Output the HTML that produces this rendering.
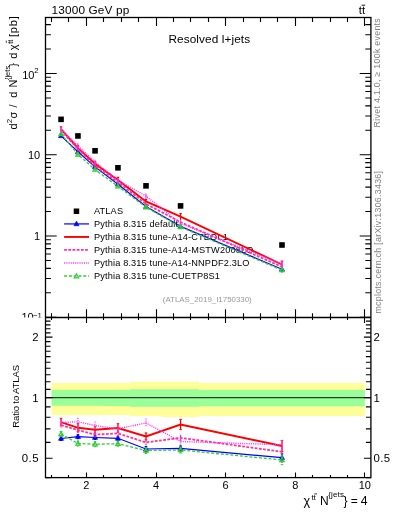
<!DOCTYPE html>
<html><head><meta charset="utf-8"><style>
html,body{margin:0;padding:0;background:#fff;width:393px;height:512px;overflow:hidden;}
body{position:relative;font-family:"Liberation Sans",sans-serif;-webkit-font-smoothing:antialiased;}
svg{will-change:transform;}
</style></head><body>
<svg width="393" height="512" viewBox="0 0 393 512" style="position:absolute;left:0;top:0">
<defs><clipPath id="cu"><rect x="0" y="0" width="393" height="317.4"/></clipPath>
<clipPath id="pu"><rect x="45.5" y="17.5" width="325.4" height="300.0"/></clipPath>
<clipPath id="pr"><rect x="45.5" y="317.5" width="325.4" height="160.10000000000002"/></clipPath></defs>
<path d="M51.59 382.90L69.00 382.90L69.00 382.90L86.40 382.90L86.40 382.90L103.81 382.90L103.81 382.90L129.91 382.90L129.91 381.70L160.89 381.70L160.89 381.70L199.18 381.70L199.18 382.90L364.88 382.90L364.88 416.10L199.18 416.10L199.18 416.90L160.89 416.90L160.89 416.10L129.91 416.10L129.91 414.90L103.81 414.90L103.81 414.90L86.40 414.90L86.40 414.90L69.00 414.90L69.00 414.90L51.59 414.90Z" fill="#ffff99"/>
<path d="M51.59 389.90L69.00 389.90L69.00 389.90L86.40 389.90L86.40 389.90L103.81 389.90L103.81 389.90L129.91 389.90L129.91 389.30L160.89 389.30L160.89 389.30L199.18 389.30L199.18 390.00L364.88 390.00L364.88 406.30L199.18 406.30L199.18 406.80L160.89 406.80L160.89 406.80L129.91 406.80L129.91 405.90L103.81 405.90L103.81 405.80L86.40 405.80L86.40 405.80L69.00 405.80L69.00 405.80L51.59 405.80Z" fill="#99ff99"/>
<line x1="45.5" y1="397.7" x2="370.9" y2="397.7" stroke="#2f3a2f" stroke-width="1.2"/>
<rect x="45.5" y="17.5" width="325.4" height="460.1" fill="none" stroke="#000" stroke-width="1.3"/>
<line x1="45.5" y1="317.5" x2="370.9" y2="317.5" stroke="#000" stroke-width="1.3"/>
<path d="M51.50 17.50L51.50 21.90M51.50 317.50L51.50 313.20M51.50 317.50L51.50 319.90M51.50 477.60L51.50 475.00M68.50 17.50L68.50 21.90M68.50 317.50L68.50 313.20M68.50 317.50L68.50 319.90M68.50 477.60L68.50 475.00M86.50 17.50L86.50 25.90M86.50 317.50L86.50 309.20M86.50 317.50L86.50 322.90M86.50 477.60L86.50 472.60M103.50 17.50L103.50 21.90M103.50 317.50L103.50 313.20M103.50 317.50L103.50 319.90M103.50 477.60L103.50 475.00M121.50 17.50L121.50 21.90M121.50 317.50L121.50 313.20M121.50 317.50L121.50 319.90M121.50 477.60L121.50 475.00M138.50 17.50L138.50 21.90M138.50 317.50L138.50 313.20M138.50 317.50L138.50 319.90M138.50 477.60L138.50 475.00M156.50 17.50L156.50 25.90M156.50 317.50L156.50 309.20M156.50 317.50L156.50 322.90M156.50 477.60L156.50 472.60M173.50 17.50L173.50 21.90M173.50 317.50L173.50 313.20M173.50 317.50L173.50 319.90M173.50 477.60L173.50 475.00M190.50 17.50L190.50 21.90M190.50 317.50L190.50 313.20M190.50 317.50L190.50 319.90M190.50 477.60L190.50 475.00M208.50 17.50L208.50 21.90M208.50 317.50L208.50 313.20M208.50 317.50L208.50 319.90M208.50 477.60L208.50 475.00M225.50 17.50L225.50 25.90M225.50 317.50L225.50 309.20M225.50 317.50L225.50 322.90M225.50 477.60L225.50 472.60M243.50 17.50L243.50 21.90M243.50 317.50L243.50 313.20M243.50 317.50L243.50 319.90M243.50 477.60L243.50 475.00M260.50 17.50L260.50 21.90M260.50 317.50L260.50 313.20M260.50 317.50L260.50 319.90M260.50 477.60L260.50 475.00M277.50 17.50L277.50 21.90M277.50 317.50L277.50 313.20M277.50 317.50L277.50 319.90M277.50 477.60L277.50 475.00M295.50 17.50L295.50 25.90M295.50 317.50L295.50 309.20M295.50 317.50L295.50 322.90M295.50 477.60L295.50 472.60M312.50 17.50L312.50 21.90M312.50 317.50L312.50 313.20M312.50 317.50L312.50 319.90M312.50 477.60L312.50 475.00M330.50 17.50L330.50 21.90M330.50 317.50L330.50 313.20M330.50 317.50L330.50 319.90M330.50 477.60L330.50 475.00M347.50 17.50L347.50 21.90M347.50 317.50L347.50 313.20M347.50 317.50L347.50 319.90M347.50 477.60L347.50 475.00M364.50 17.50L364.50 25.90M364.50 317.50L364.50 309.20M364.50 317.50L364.50 322.90M364.50 477.60L364.50 472.60M45.50 317.25L56.70 317.25M370.90 317.25L359.70 317.25M45.50 292.79L50.90 292.79M370.90 292.79L365.30 292.79M45.50 278.48L50.90 278.48M370.90 278.48L365.30 278.48M45.50 268.33L50.90 268.33M370.90 268.33L365.30 268.33M45.50 260.46L50.90 260.46M370.90 260.46L365.30 260.46M45.50 254.03L50.90 254.03M370.90 254.03L365.30 254.03M45.50 248.59L50.90 248.59M370.90 248.59L365.30 248.59M45.50 243.87L50.90 243.87M370.90 243.87L365.30 243.87M45.50 239.72L50.90 239.72M370.90 239.72L365.30 239.72M45.50 236.00L56.70 236.00M370.90 236.00L359.70 236.00M45.50 211.54L50.90 211.54M370.90 211.54L365.30 211.54M45.50 197.23L50.90 197.23M370.90 197.23L365.30 197.23M45.50 187.08L50.90 187.08M370.90 187.08L365.30 187.08M45.50 179.21L50.90 179.21M370.90 179.21L365.30 179.21M45.50 172.78L50.90 172.78M370.90 172.78L365.30 172.78M45.50 167.34L50.90 167.34M370.90 167.34L365.30 167.34M45.50 162.62L50.90 162.62M370.90 162.62L365.30 162.62M45.50 158.47L50.90 158.47M370.90 158.47L365.30 158.47M45.50 154.75L56.70 154.75M370.90 154.75L359.70 154.75M45.50 130.29L50.90 130.29M370.90 130.29L365.30 130.29M45.50 115.98L50.90 115.98M370.90 115.98L365.30 115.98M45.50 105.83L50.90 105.83M370.90 105.83L365.30 105.83M45.50 97.96L50.90 97.96M370.90 97.96L365.30 97.96M45.50 91.53L50.90 91.53M370.90 91.53L365.30 91.53M45.50 86.09L50.90 86.09M370.90 86.09L365.30 86.09M45.50 81.37L50.90 81.37M370.90 81.37L365.30 81.37M45.50 77.22L50.90 77.22M370.90 77.22L365.30 77.22M45.50 73.50L56.70 73.50M370.90 73.50L359.70 73.50M45.50 49.04L50.90 49.04M370.90 49.04L365.30 49.04M45.50 34.73L50.90 34.73M370.90 34.73L365.30 34.73M45.50 24.58L50.90 24.58M370.90 24.58L365.30 24.58M45.50 477.81L50.50 477.81M370.90 477.81L365.90 477.81M45.50 458.30L52.50 458.30M370.90 458.30L363.90 458.30M45.50 442.36L50.50 442.36M370.90 442.36L365.90 442.36M45.50 428.88L50.50 428.88M370.90 428.88L365.90 428.88M45.50 417.21L50.50 417.21M370.90 417.21L365.90 417.21M45.50 406.91L50.50 406.91M370.90 406.91L365.90 406.91M45.50 397.70L52.50 397.70M370.90 397.70L363.90 397.70M45.50 389.37L50.50 389.37M370.90 389.37L365.90 389.37M45.50 381.76L50.50 381.76M370.90 381.76L365.90 381.76M45.50 374.76L50.50 374.76M370.90 374.76L365.90 374.76M45.50 368.28L50.50 368.28M370.90 368.28L365.90 368.28M45.50 362.25L50.50 362.25M370.90 362.25L365.90 362.25M45.50 356.61L50.50 356.61M370.90 356.61L365.90 356.61M45.50 351.31L50.50 351.31M370.90 351.31L365.90 351.31M45.50 346.31L50.50 346.31M370.90 346.31L365.90 346.31M45.50 341.59L50.50 341.59M370.90 341.59L365.90 341.59M45.50 337.10L52.50 337.10M370.90 337.10L363.90 337.10M45.50 332.84L50.50 332.84M370.90 332.84L365.90 332.84M45.50 328.77L50.50 328.77M370.90 328.77L365.90 328.77M45.50 324.88L50.50 324.88M370.90 324.88L365.90 324.88M45.50 321.16L50.50 321.16M370.90 321.16L365.90 321.16" stroke="#000" stroke-width="1.1" fill="none"/>
<text x="51.6" y="13.8" font-size="11.8" text-anchor="start" fill="#000" font-family="Liberation Sans, sans-serif" letter-spacing="0.14">13000 GeV pp</text>
<text x="358.8" y="14" font-size="11.5" font-family="Liberation Sans, sans-serif">tt</text>
<path d="M361.6 5.2L365.2 5.2" stroke="#000" stroke-width="0.9"/>
<text x="168.4" y="42.5" font-size="11.8" text-anchor="start" fill="#000" font-family="Liberation Sans, sans-serif" letter-spacing="0.1">Resolved l+jets</text>
<g clip-path="url(#cu)">
<text x="34.4" y="78.9" font-size="11" text-anchor="end" fill="#000" font-family="Liberation Sans, sans-serif" >10</text>
<text x="34.3" y="73.2" font-size="7.8" text-anchor="start" fill="#000" font-family="Liberation Sans, sans-serif" >2</text>
<text x="40.2" y="159.1" font-size="11" text-anchor="end" fill="#000" font-family="Liberation Sans, sans-serif" >10</text>
<text x="40.0" y="240.0" font-size="11" text-anchor="end" fill="#000" font-family="Liberation Sans, sans-serif" >1</text>
<text x="21.4" y="320.9" font-size="11" text-anchor="start" fill="#000" font-family="Liberation Sans, sans-serif" >10</text>
<text x="33" y="317.6" font-size="7.8" text-anchor="start" fill="#000" font-family="Liberation Sans, sans-serif" >&#8722;1</text>
</g>
<text x="38.6" y="341.2" font-size="11.4" text-anchor="end" fill="#000" font-family="Liberation Sans, sans-serif" >2</text>
<text x="373.4" y="341.2" font-size="11.4" text-anchor="start" fill="#000" font-family="Liberation Sans, sans-serif" >2</text>
<text x="38.6" y="401.8" font-size="11.4" text-anchor="end" fill="#000" font-family="Liberation Sans, sans-serif" >1</text>
<text x="373.4" y="401.8" font-size="11.4" text-anchor="start" fill="#000" font-family="Liberation Sans, sans-serif" >1</text>
<text x="38.9" y="462.4" font-size="11.4" text-anchor="end" fill="#000" font-family="Liberation Sans, sans-serif" letter-spacing="0.4">0.5</text>
<text x="373.4" y="462.4" font-size="11.4" text-anchor="start" fill="#000" font-family="Liberation Sans, sans-serif" letter-spacing="0.4">0.5</text>
<text x="86.40" y="489" font-size="11" text-anchor="middle" fill="#000" font-family="Liberation Sans, sans-serif" >2</text>
<text x="156.02" y="489" font-size="11" text-anchor="middle" fill="#000" font-family="Liberation Sans, sans-serif" >4</text>
<text x="225.64" y="489" font-size="11" text-anchor="middle" fill="#000" font-family="Liberation Sans, sans-serif" >6</text>
<text x="295.26" y="489" font-size="11" text-anchor="middle" fill="#000" font-family="Liberation Sans, sans-serif" >8</text>
<text x="364.88" y="489" font-size="11" text-anchor="middle" fill="#000" font-family="Liberation Sans, sans-serif" >10</text>
<text x="303.6" y="504.9" font-size="12.6" text-anchor="start" fill="#000" font-family="Liberation Sans, sans-serif" >&#967;</text>
<text x="311.4" y="500.0" font-size="8" text-anchor="start" fill="#000" font-family="Liberation Sans, sans-serif" >tt</text>
<path d="M314.3 493.9L317.0 493.9" stroke="#000" stroke-width="0.8"/>
<text x="320.0" y="504.9" font-size="12" text-anchor="start" fill="#000" font-family="Liberation Sans, sans-serif" >N</text>
<text x="328.2" y="497.3" font-size="8" text-anchor="start" fill="#000" font-family="Liberation Sans, sans-serif" letter-spacing="0.15">{jets</text>
<text x="343.4" y="504.9" font-size="12" text-anchor="start" fill="#000" font-family="Liberation Sans, sans-serif" >}</text>
<text x="350.8" y="504.9" font-size="12" text-anchor="start" fill="#000" font-family="Liberation Sans, sans-serif" >=</text>
<text x="360.7" y="504.9" font-size="12.2" text-anchor="start" fill="#000" font-family="Liberation Sans, sans-serif" >4</text>
<text transform="translate(17.0,129.55) rotate(-90)" font-size="11" fill="#000" font-family="Liberation Sans, sans-serif" >d</text>
<text transform="translate(11.7,123.2) rotate(-90)" font-size="8" fill="#000" font-family="Liberation Sans, sans-serif" >2</text>
<text transform="translate(17.0,118.55) rotate(-90)" font-size="11" fill="#000" font-family="Liberation Sans, sans-serif" >&#963;</text>
<text transform="translate(17.0,107.4) rotate(-90)" font-size="11" fill="#000" font-family="Liberation Sans, sans-serif" >/</text>
<text transform="translate(17.0,97.85) rotate(-90)" font-size="11" fill="#000" font-family="Liberation Sans, sans-serif" >d</text>
<text transform="translate(17.0,87.5) rotate(-90)" font-size="11" fill="#000" font-family="Liberation Sans, sans-serif" >N</text>
<text transform="translate(9.7,80.05) rotate(-90)" font-size="7.5" fill="#000" font-family="Liberation Sans, sans-serif" >{jets</text>
<text transform="translate(17.0,66.7) rotate(-90)" font-size="11" fill="#000" font-family="Liberation Sans, sans-serif" >}</text>
<text transform="translate(17.0,58.8) rotate(-90)" font-size="11" fill="#000" font-family="Liberation Sans, sans-serif" >d</text>
<text transform="translate(17.0,50.3) rotate(-90)" font-size="11" fill="#000" font-family="Liberation Sans, sans-serif" >&#967;</text>
<text transform="translate(13.4,43.75) rotate(-90)" font-size="7" fill="#000" font-family="Liberation Sans, sans-serif" >tt</text>
<path d="M6.3 40.6L6.3 43.0" stroke="#000" stroke-width="0.7"/>
<text transform="translate(17.0,37.0) rotate(-90)" font-size="11" fill="#000" font-family="Liberation Sans, sans-serif" letter-spacing="0.8">[pb]</text>
<text transform="translate(18.5,427.8) rotate(-90)" font-size="9.6" fill="#000" font-family="Liberation Sans, sans-serif" letter-spacing="-0.15">Ratio to ATLAS</text>
<text transform="translate(380.0,127.4) rotate(-90)" font-size="8.8" fill="#808080" font-family="Liberation Sans, sans-serif" letter-spacing="0.3">Rivet 4.1.0, &#8805; 100k events</text>
<text transform="translate(380.6,313.6) rotate(-90)" font-size="8.8" fill="#808080" font-family="Liberation Sans, sans-serif" letter-spacing="0.3">mcplots.cern.ch [arXiv:1306.3436]</text>
<text x="162.8" y="302.1" font-size="7.9" text-anchor="start" fill="#999999" font-family="Liberation Sans, sans-serif" >(ATLAS_2019_I1750330)</text>
<text x="94.0" y="213.7" font-size="9.2" text-anchor="start" fill="#000" font-family="Liberation Sans, sans-serif" letter-spacing="0.15">ATLAS</text>
<text x="94.0" y="226.7" font-size="9.2" text-anchor="start" fill="#000" font-family="Liberation Sans, sans-serif" letter-spacing="0.15">Pythia 8.315 default</text>
<text x="94.0" y="239.7" font-size="9.2" text-anchor="start" fill="#000" font-family="Liberation Sans, sans-serif" letter-spacing="0.15">Pythia 8.315 tune-A14-CTEQL1</text>
<text x="94.0" y="252.8" font-size="9.2" text-anchor="start" fill="#000" font-family="Liberation Sans, sans-serif" letter-spacing="0.15">Pythia 8.315 tune-A14-MSTW2008LO</text>
<text x="94.0" y="265.8" font-size="9.2" text-anchor="start" fill="#000" font-family="Liberation Sans, sans-serif" letter-spacing="0.15">Pythia 8.315 tune-A14-NNPDF2.3LO</text>
<text x="94.0" y="278.8" font-size="9.2" text-anchor="start" fill="#000" font-family="Liberation Sans, sans-serif" letter-spacing="0.15">Pythia 8.315 tune-CUETP8S1</text>
<rect x="73.7" y="208.5" width="5.5" height="5.5" fill="#000"/>
<line x1="64.1" y1="223.92" x2="89" y2="223.92" stroke="#0000ff" stroke-width="1.2" />
<line x1="64.1" y1="236.94" x2="89" y2="236.94" stroke="#ff0000" stroke-width="1.9" />
<line x1="64.1" y1="249.96" x2="89" y2="249.96" stroke="#ff3399" stroke-width="1.8" stroke-dasharray="2.8 1.4"/>
<line x1="64.1" y1="262.98" x2="89" y2="262.98" stroke="#ff33ff" stroke-width="1.4" stroke-dasharray="1.1 1.1"/>
<line x1="64.1" y1="276.00" x2="89" y2="276.00" stroke="#33cc33" stroke-width="1.3" stroke-dasharray="3 1.8"/>
<path d="M76.50 221.09L79.10 225.77L73.90 225.77Z" fill="#0000ff" stroke="#0000ff" stroke-width="0.6"/>
<path d="M76.50 273.72L78.80 277.86L74.20 277.86Z" fill="none" stroke="#33cc33" stroke-width="1.1"/>
<g clip-path="url(#pu)">
<path d="M61.05 135.83L77.95 151.70L95.05 166.88L117.95 184.20L146.00 206.57L180.55 226.38L282.00 269.24" fill="none" stroke="#0000ff" stroke-width="1.2" />
<path d="M61.05 134.63L61.05 137.03M77.95 150.50L77.95 152.90M95.05 165.68L95.05 168.08M117.95 183.00L117.95 185.40M146.00 205.07L146.00 208.07M180.55 224.88L180.55 227.88M282.00 266.84L282.00 271.64" stroke="#0000ff" stroke-width="1.2"/>
<path d="M61.05 133.02L63.65 137.70L58.45 137.70Z" fill="#0000ff" stroke="#0000ff" stroke-width="0.6"/>
<path d="M77.95 148.90L80.55 153.58L75.35 153.58Z" fill="#0000ff" stroke="#0000ff" stroke-width="0.6"/>
<path d="M95.05 164.07L97.65 168.75L92.45 168.75Z" fill="#0000ff" stroke="#0000ff" stroke-width="0.6"/>
<path d="M117.95 181.39L120.55 186.07L115.35 186.07Z" fill="#0000ff" stroke="#0000ff" stroke-width="0.6"/>
<path d="M146.00 203.77L148.60 208.45L143.40 208.45Z" fill="#0000ff" stroke="#0000ff" stroke-width="0.6"/>
<path d="M180.55 223.57L183.15 228.25L177.95 228.25Z" fill="#0000ff" stroke="#0000ff" stroke-width="0.6"/>
<path d="M282.00 266.43L284.60 271.11L279.40 271.11Z" fill="#0000ff" stroke="#0000ff" stroke-width="0.6"/>
<path d="M61.05 129.21L77.95 148.11L95.05 163.77L117.95 180.04L146.00 201.48L180.55 216.73L282.00 264.51" fill="none" stroke="#ff0000" stroke-width="1.9" />
<path d="M61.05 126.93L61.05 131.49M77.95 145.65L77.95 150.57M95.05 161.67L95.05 165.87M117.95 177.46L117.95 182.62M146.00 199.38L146.00 203.58M180.55 213.67L180.55 219.79M282.00 261.21L282.00 267.81M59.85 126.93L62.25 126.93M76.75 145.65L79.15 145.65M93.85 161.67L96.25 161.67M116.75 177.46L119.15 177.46M144.80 199.38L147.20 199.38M179.35 213.67L181.75 213.67M280.80 261.21L283.20 261.21" stroke="#ff0000" stroke-width="1.2"/>
<path d="M61.05 130.42L77.95 149.04L95.05 165.71L117.95 182.22L146.00 203.91L180.55 222.10L282.00 266.86" fill="none" stroke="#ff3399" stroke-width="1.8" stroke-dasharray="2.8 1.4"/>
<path d="M61.05 128.92L61.05 131.92M77.95 147.24L77.95 150.84M95.05 163.91L95.05 167.51M117.95 180.42L117.95 184.02M146.00 202.11L146.00 205.71M180.55 220.30L180.55 223.90M282.00 264.16L282.00 269.56" stroke="#ff3399" stroke-width="1.2"/>
<path d="M61.05 129.37L77.95 145.69L95.05 162.03L117.95 180.36L146.00 196.03L180.55 223.59L282.00 264.03" fill="none" stroke="#ff33ff" stroke-width="1.4" stroke-dasharray="1.1 1.1"/>
<path d="M61.05 127.27L61.05 131.47M77.95 143.29L77.95 148.09M95.05 159.63L95.05 164.43M117.95 178.26L117.95 182.46M146.00 193.39L146.00 198.67M180.55 221.49L180.55 225.69M282.00 261.03L282.00 267.03" stroke="#ff33ff" stroke-width="1.2"/>
<path d="M61.05 134.01L77.95 154.45L95.05 169.58L117.95 186.38L146.00 207.18L180.55 227.03L282.00 270.17" fill="none" stroke="#33cc33" stroke-width="1.3" stroke-dasharray="3 1.8"/>
<path d="M61.05 132.51L61.05 135.51M77.95 152.95L77.95 155.95M95.05 168.08L95.05 171.08M117.95 184.88L117.95 187.88M146.00 205.38L146.00 208.98M180.55 225.23L180.55 228.83M282.00 267.35L282.00 272.99" stroke="#33cc33" stroke-width="1.2"/>
<path d="M61.05 131.53L63.35 135.67L58.75 135.67Z" fill="none" stroke="#33cc33" stroke-width="1.1"/>
<path d="M77.95 151.97L80.25 156.11L75.65 156.11Z" fill="none" stroke="#33cc33" stroke-width="1.1"/>
<path d="M95.05 167.10L97.35 171.24L92.75 171.24Z" fill="none" stroke="#33cc33" stroke-width="1.1"/>
<path d="M117.95 183.90L120.25 188.04L115.65 188.04Z" fill="none" stroke="#33cc33" stroke-width="1.1"/>
<path d="M146.00 204.70L148.30 208.84L143.70 208.84Z" fill="none" stroke="#33cc33" stroke-width="1.1"/>
<path d="M180.55 224.54L182.85 228.68L178.25 228.68Z" fill="none" stroke="#33cc33" stroke-width="1.1"/>
<path d="M282.00 267.68L284.30 271.82L279.70 271.82Z" fill="none" stroke="#33cc33" stroke-width="1.1"/>
<rect x="58.25" y="116.55" width="5.6" height="5.6" fill="#000"/>
<rect x="75.15" y="133.15" width="5.6" height="5.6" fill="#000"/>
<rect x="92.25" y="148.00" width="5.6" height="5.6" fill="#000"/>
<rect x="115.15" y="165.00" width="5.6" height="5.6" fill="#000"/>
<rect x="143.20" y="183.05" width="5.6" height="5.6" fill="#000"/>
<rect x="177.75" y="203.10" width="5.6" height="5.6" fill="#000"/>
<rect x="279.20" y="242.20" width="5.6" height="5.6" fill="#000"/>
</g>
<g clip-path="url(#pr)">
<path d="M61.05 438.50L77.95 436.70L95.05 437.50L117.95 438.30L146.00 449.00L180.55 448.40L282.00 457.70" fill="none" stroke="#0000ff" stroke-width="1.2" />
<path d="M61.05 436.50L61.05 440.50M77.95 434.70L77.95 438.70M95.05 435.50L95.05 439.50M117.95 436.30L117.95 440.30M146.00 446.50L146.00 451.50M180.55 445.90L180.55 450.90M282.00 453.70L282.00 461.70" stroke="#0000ff" stroke-width="1.3" />
<path d="M59.75 436.50L62.35 436.50M59.75 440.50L62.35 440.50M76.65 434.70L79.25 434.70M76.65 438.70L79.25 438.70M93.75 435.50L96.35 435.50M93.75 439.50L96.35 439.50M116.65 436.30L119.25 436.30M116.65 440.30L119.25 440.30M144.70 446.50L147.30 446.50M144.70 451.50L147.30 451.50M179.25 445.90L181.85 445.90M179.25 450.90L181.85 450.90M280.70 453.70L283.30 453.70M280.70 461.70L283.30 461.70" stroke="#0000ff" stroke-width="1.0"/>
<path d="M61.05 435.69L63.65 440.37L58.45 440.37Z" fill="#0000ff" stroke="#0000ff" stroke-width="0.6"/>
<path d="M77.95 433.89L80.55 438.57L75.35 438.57Z" fill="#0000ff" stroke="#0000ff" stroke-width="0.6"/>
<path d="M95.05 434.69L97.65 439.37L92.45 439.37Z" fill="#0000ff" stroke="#0000ff" stroke-width="0.6"/>
<path d="M117.95 435.49L120.55 440.17L115.35 440.17Z" fill="#0000ff" stroke="#0000ff" stroke-width="0.6"/>
<path d="M146.00 446.19L148.60 450.87L143.40 450.87Z" fill="#0000ff" stroke="#0000ff" stroke-width="0.6"/>
<path d="M180.55 445.59L183.15 450.27L177.95 450.27Z" fill="#0000ff" stroke="#0000ff" stroke-width="0.6"/>
<path d="M282.00 454.89L284.60 459.57L279.40 459.57Z" fill="#0000ff" stroke="#0000ff" stroke-width="0.6"/>
<path d="M61.05 422.10L77.95 427.80L95.05 429.80L117.95 428.00L146.00 436.40L180.55 424.50L282.00 446.00" fill="none" stroke="#ff0000" stroke-width="1.9" />
<path d="M61.05 418.30L61.05 425.90M77.95 423.70L77.95 431.90M95.05 426.30L95.05 433.30M117.95 423.70L117.95 432.30M146.00 432.90L146.00 439.90M180.55 419.40L180.55 429.60M282.00 440.50L282.00 451.50" stroke="#ff0000" stroke-width="1.3" />
<path d="M59.75 418.30L62.35 418.30M59.75 425.90L62.35 425.90M76.65 423.70L79.25 423.70M76.65 431.90L79.25 431.90M93.75 426.30L96.35 426.30M93.75 433.30L96.35 433.30M116.65 423.70L119.25 423.70M116.65 432.30L119.25 432.30M144.70 432.90L147.30 432.90M144.70 439.90L147.30 439.90M179.25 419.40L181.85 419.40M179.25 429.60L181.85 429.60M280.70 440.50L283.30 440.50M280.70 451.50L283.30 451.50" stroke="#ff0000" stroke-width="1.0"/>
<path d="M61.05 425.10L77.95 430.10L95.05 434.60L117.95 433.40L146.00 442.40L180.55 437.80L282.00 451.80" fill="none" stroke="#ff3399" stroke-width="1.8" stroke-dasharray="2.8 1.4"/>
<path d="M61.05 422.60L61.05 427.60M77.95 427.10L77.95 433.10M95.05 431.60L95.05 437.60M117.95 430.40L117.95 436.40M146.00 439.40L146.00 445.40M180.55 434.80L180.55 440.80M282.00 447.30L282.00 456.30" stroke="#ff3399" stroke-width="1.3" stroke-dasharray="2.8 1.4"/>
<path d="M61.05 422.50L77.95 421.80L95.05 425.50L117.95 428.80L146.00 422.90L180.55 441.50L282.00 444.80" fill="none" stroke="#ff33ff" stroke-width="1.4" stroke-dasharray="1.1 1.1"/>
<path d="M61.05 419.00L61.05 426.00M77.95 417.80L77.95 425.80M95.05 421.50L95.05 429.50M117.95 425.30L117.95 432.30M146.00 418.50L146.00 427.30M180.55 438.00L180.55 445.00M282.00 439.80L282.00 449.80" stroke="#ff33ff" stroke-width="1.3" stroke-dasharray="1.1 1.1"/>
<path d="M61.05 434.00L77.95 443.50L95.05 444.20L117.95 443.70L146.00 450.50L180.55 450.00L282.00 460.00" fill="none" stroke="#33cc33" stroke-width="1.3" stroke-dasharray="3 1.8"/>
<path d="M61.05 431.50L61.05 436.50M77.95 441.00L77.95 446.00M95.05 441.70L95.05 446.70M117.95 441.20L117.95 446.20M146.00 447.50L146.00 453.50M180.55 447.00L180.55 453.00M282.00 455.30L282.00 464.70" stroke="#33cc33" stroke-width="1.3" stroke-dasharray="3 1.8"/>
<path d="M59.75 431.50L62.35 431.50M59.75 436.50L62.35 436.50M76.65 441.00L79.25 441.00M76.65 446.00L79.25 446.00M93.75 441.70L96.35 441.70M93.75 446.70L96.35 446.70M116.65 441.20L119.25 441.20M116.65 446.20L119.25 446.20M144.70 447.50L147.30 447.50M144.70 453.50L147.30 453.50M179.25 447.00L181.85 447.00M179.25 453.00L181.85 453.00M280.70 455.30L283.30 455.30M280.70 464.70L283.30 464.70" stroke="#33cc33" stroke-width="1.0"/>
<path d="M61.05 431.52L63.35 435.66L58.75 435.66Z" fill="none" stroke="#33cc33" stroke-width="1.1"/>
<path d="M77.95 441.02L80.25 445.16L75.65 445.16Z" fill="none" stroke="#33cc33" stroke-width="1.1"/>
<path d="M95.05 441.72L97.35 445.86L92.75 445.86Z" fill="none" stroke="#33cc33" stroke-width="1.1"/>
<path d="M117.95 441.22L120.25 445.36L115.65 445.36Z" fill="none" stroke="#33cc33" stroke-width="1.1"/>
<path d="M146.00 448.02L148.30 452.16L143.70 452.16Z" fill="none" stroke="#33cc33" stroke-width="1.1"/>
<path d="M180.55 447.52L182.85 451.66L178.25 451.66Z" fill="none" stroke="#33cc33" stroke-width="1.1"/>
<path d="M282.00 457.52L284.30 461.66L279.70 461.66Z" fill="none" stroke="#33cc33" stroke-width="1.1"/>
</g>
</svg>
</body></html>
